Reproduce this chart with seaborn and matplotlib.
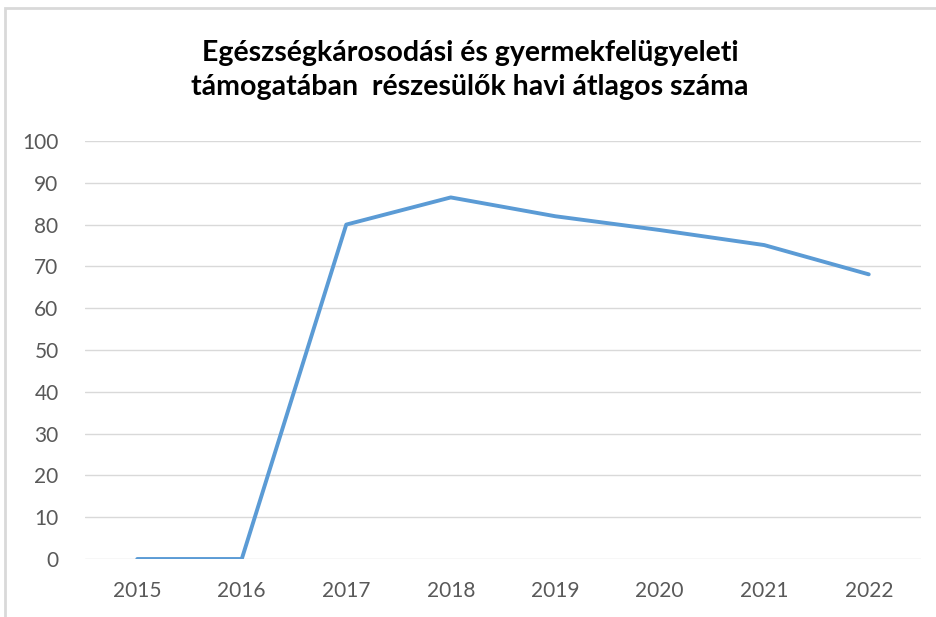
import matplotlib
matplotlib.use("Agg")
import matplotlib.pyplot as plt
from matplotlib.patches import Rectangle
import seaborn as sns
import pandas as pd

years = ["2015", "2016", "2017", "2018", "2019", "2020", "2021", "2022"]
values = [0, 0, 80, 86.5, 82, 78.7, 75.1, 68.1]
yticks = [0, 10, 20, 30, 40, 50, 60, 70, 80, 90, 100]
title = "Egészségkárosodási és gyermekfelügyeleti\ntámogatában  részesülők havi átlagos száma"

sns.set_style("white")
plt.rcParams['font.family'] = ['Lato', 'DejaVu Sans']

df = pd.DataFrame({"year": years, "value": values})

fig = plt.figure(figsize=(9.37, 6.17), dpi=100, facecolor='white')
ax = fig.add_axes([85/937, 1 - 559/617, (921-85)/937, (559-141)/617])

sns.lineplot(data=df, x="year", y="value", ax=ax, color="#5B9BD5", linewidth=2.8, sort=False)

ax.set_xlim(-0.5, len(years) - 0.5)
ax.set_ylim(0, 100)
ax.set_yticks(yticks)
ax.yaxis.grid(True, color="#D9D9D9", linewidth=1)
ax.set_axisbelow(True)
for s in ax.spines.values():
    s.set_visible(False)
ax.set_xlabel("")
ax.set_ylabel("")
ax.tick_params(axis='both', length=0, labelsize=15, labelcolor="#595959")
ax.tick_params(axis='x', pad=16)
ax.tick_params(axis='y', pad=19)

fig.text(470/937, 1 - 70/617, title, ha='center', va='center', fontsize=20.5,
         fontweight='bold', color='black', linespacing=1.35)

# chart frame
fig.patches.append(Rectangle((5/937, -0.1), 1.2, 1 - 8/617 + 0.1, transform=fig.transFigure,
                             fill=False, edgecolor="#D9D9D9", linewidth=2))

fig.savefig("out.png", dpi=100, facecolor='white')
